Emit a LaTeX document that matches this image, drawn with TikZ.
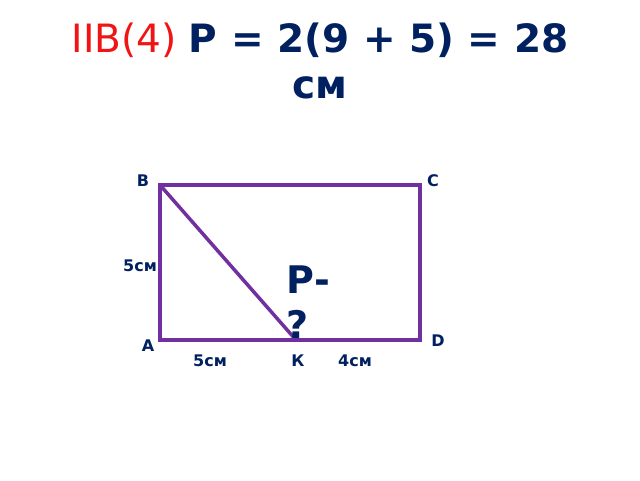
\documentclass[tikz,border=0pt]{standalone}
\usepackage{fontspec}
\setmainfont{DejaVu Sans}
\definecolor{dblue}{RGB}{0,32,96}
\definecolor{dred}{RGB}{240,20,20}
\definecolor{purp}{RGB}{112,48,160}
\begin{document}
\begin{tikzpicture}[x=1pt,y=-1pt,
  lbl/.style={font=\fontsize{16}{18}\selectfont\bfseries, text=dblue, inner sep=0pt, anchor=base},
  side/.style={draw=purp, line width=3.5pt, line join=miter}]
\useasboundingbox (0,0) rectangle (640,480);
\node[anchor=base, inner sep=0pt, font=\fontsize{39}{46}\selectfont] (title1) at (320,52)
  {\textcolor{dred}{IIВ(4)} \textcolor{dblue}{\bfseries Р = 2(9 + 5) = 28}};
\node[anchor=base, inner sep=0pt, font=\fontsize{39}{46}\selectfont\bfseries, text=dblue] (title2) at (320,98) {см};
\coordinate (A) at (160,340);
\coordinate (B) at (160,185);
\coordinate (C) at (420,185);
\coordinate (D) at (420,340);
\coordinate (K) at (296,340);
\draw[side] (A) -- (B) -- (C) -- (D) -- cycle;
\draw[side] (B) -- (K);
\node[lbl] (lB) at (143,186) {В};
\node[lbl] (lC) at (433,186) {С};
\node[lbl] (lD) at (438,346) {D};
\node[lbl] (lA) at (148,351) {А};
\node[lbl] (lK) at (298,366) {К};
\node[lbl] (l5a) at (140,271) {5см};
\node[lbl] (l5b) at (210,366) {5см};
\node[lbl] (l4) at (355,366) {4см};
\node[anchor=base west, inner sep=0pt, font=\fontsize{38}{45}\selectfont\bfseries, text=dblue] (p1) at (286,293) {Р-};
\node[anchor=base west, inner sep=0pt, font=\fontsize{38}{45}\selectfont\bfseries, text=dblue] (p2) at (286,338) {?};
\end{tikzpicture}
\end{document}
